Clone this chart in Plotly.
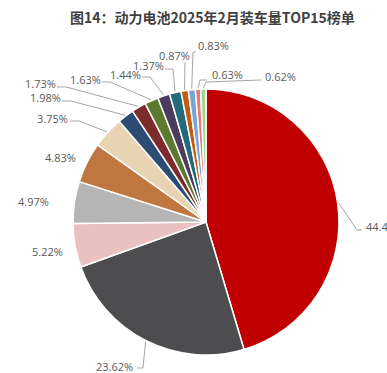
import plotly.graph_objects as go
import math

# ---------------- data ----------------
labels_txt = ["44.45%", "23.62%", "5.22%", "4.97%", "4.83%", "3.75%", "1.98%", "1.73%",
              "1.63%", "1.44%", "1.37%", "0.87%", "0.83%", "0.63%", "0.62%"]
values = [44.45, 23.62, 5.22, 4.97, 4.83, 3.75, 1.98, 1.73, 1.63, 1.44, 1.37, 0.87, 0.83, 0.63, 0.62]
names = ["No.%d" % (i + 1) for i in range(len(values))]
title_text = "图14：动力电池2025年2月装车量TOP15榜单"

# ---------------- style / layout ----------------
colors = ["#C00000", "#4D4D4F", "#EAC1C1", "#B5B5B5", "#C0773F", "#E8D4B3", "#2D4C74",
          "#7C2A2A", "#5C7A2F", "#4B3B5F", "#236B7A", "#C55A11", "#7BA4D6", "#E27C7C", "#A9D18E"]
W, H = 387, 373
CX, CY, R = 206, 222, 133  # pie centre / radius in pixels

# label text centres (px) and leader paths (px, after the slice-edge start point)
label_pos = [(364, 227, "left"), (114, 366, "center"), (47, 251, "center"), (33, 201, "center"),
             (60, 157, "center"), (52, 118, "center"), (45, 98, "center"), (40, 83, "center"),
             (85, 79, "center"), (125, 74, "center"), (148, 65, "center"), (174, 56, "center"),
             (213, 46, "center"), (227, 74, "center"), (280, 76, "center")]
leaders = {
    0: [(357, 230), (362, 230)],
    1: [(143, 368), (137, 368)],
    5: [(79, 121), (70, 121)],
    6: [(71, 101), (62, 101)],
    7: [(66, 87), (57, 87)],
    8: [(110, 82), (102, 82)],
    9: [(150, 77), (142, 77)],
    10: [(173, 69), (165, 69)],
    11: [(185, 62)],
    12: [(193, 52), (196, 52)],
    13: [(200, 80), (207, 80)],
    14: [(206, 82), (261, 80)],
}


def px(x):
    return x / W


def py(y):
    return 1 - y / H


fig = go.Figure(go.Pie(
    labels=names, values=values, sort=False, direction="clockwise", rotation=0,
    marker=dict(colors=colors, line=dict(color="white", width=1.5)),
    textinfo="none", hoverinfo="label+value", showlegend=False,
    domain=dict(x=[px(CX - R), px(CX + R)], y=[py(CY + R), py(CY - R)]),
))

total = sum(values)
annotations = []
shapes = []
cum = 0.0
for i, v in enumerate(values):
    mid = (cum + v / 2) / total * 2 * math.pi
    cum += v
    sx = CX + (R + 1) * math.sin(mid)
    sy = CY - (R + 1) * math.cos(mid)
    tx, ty, anc = label_pos[i]
    annotations.append(dict(x=px(tx), y=py(ty), xref="paper", yref="paper", text=labels_txt[i],
                            showarrow=False, xanchor=anc, yanchor="middle",
                            font=dict(family="Open Sans", size=11, color="#595959")))
    if i in leaders:
        pts = [(sx, sy)] + leaders[i]
        path = "M " + " L ".join("%.4f,%.4f" % (px(a), py(b)) for a, b in pts)
        shapes.append(dict(type="path", path=path, xref="paper", yref="paper",
                           line=dict(color="#A6A6A6", width=1)))

annotations.append(dict(x=px(212), y=py(17), xref="paper", yref="paper", text="<b>" + title_text + "</b>",
                        showarrow=False, xanchor="center", yanchor="middle",
                        font=dict(family="Noto Sans CJK SC", size=14, color="#404040")))

fig.update_layout(width=W, height=H, margin=dict(l=0, r=0, t=0, b=0),
                  paper_bgcolor="white", plot_bgcolor="white",
                  annotations=annotations, shapes=shapes)

fig.write_html("out.html", config={"displayModeBar": False},
               post_script="document.body.style.margin='0';")
